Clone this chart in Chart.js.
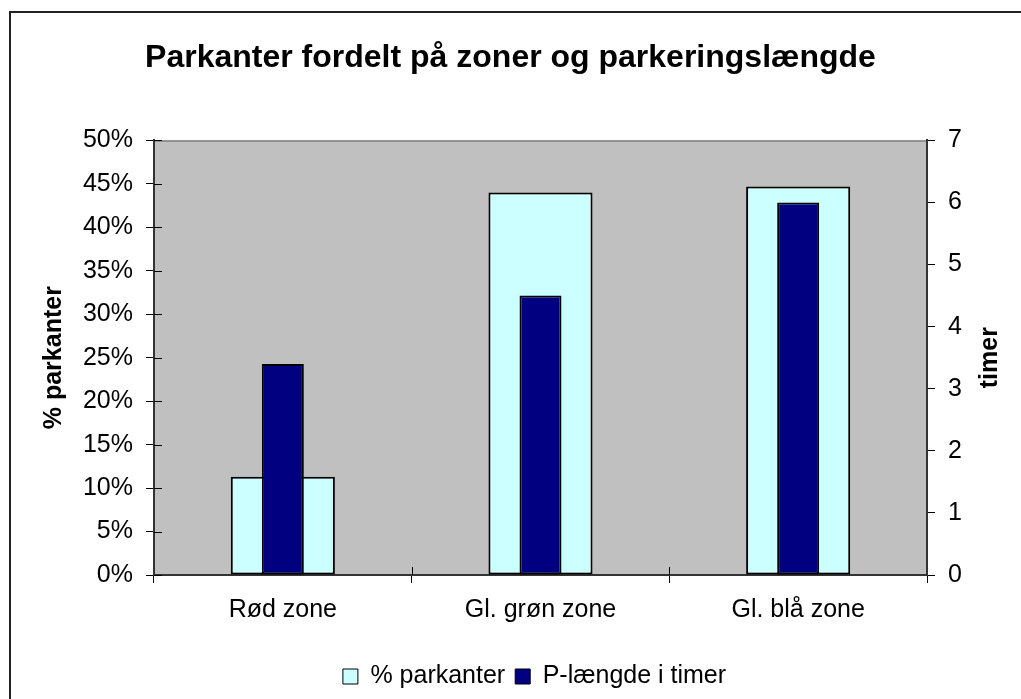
<!DOCTYPE html>
<html>
<head>
<meta charset="utf-8">
<script src="https://cdn.jsdelivr.net/npm/chart.js@4/dist/chart.umd.min.js"></script>
<style>
html,body{margin:0;padding:0;background:#fff;}
canvas{display:block;}
</style>
</head>
<body>
<canvas id="c" width="1021" height="699"></canvas>
<script>
const categories = ['Rød zone', 'Gl. grøn zone', 'Gl. blå zone'];
const pctParkanter = [11.3, 44.0, 44.7];
const pLaengdeTimer = [3.4, 4.5, 6.0];
const seriesNames = ['% parkanter', 'P-længde i timer'];
const titleText = 'Parkanter fordelt på zoner og parkeringslængde';
const leftAxisTitle = '% parkanter';
const rightAxisTitle = 'timer';

const FONT = '"Liberation Sans", Arial, Helvetica, sans-serif';

const decorPlugin = {
  id: 'decor',
  afterLayout(chart) {
    if (chart.legend) {
      chart.legend.left += 24;
      chart.legend.right += 24;
    }
  },
  beforeDraw(chart) {
    const ctx = chart.ctx;
    const a = chart.chartArea;
    ctx.save();
    ctx.fillStyle = '#ffffff';
    ctx.fillRect(0, 0, chart.width, chart.height);
    ctx.strokeStyle = '#222222';
    ctx.lineWidth = 2;
    ctx.strokeRect(10, 12, chart.width + 20, chart.height + 20);
    ctx.fillStyle = '#C0C0C0';
    ctx.fillRect(a.left, a.top, a.right - a.left, a.bottom - a.top);
    ctx.strokeStyle = '#808080';
    ctx.lineWidth = 1.5;
    ctx.beginPath();
    ctx.moveTo(a.left, a.top + 0.5);
    ctx.lineTo(a.right, a.top + 0.5);
    ctx.stroke();
    ctx.restore();
  },
  afterDraw(chart) {
    const ctx = chart.ctx;
    const a = chart.chartArea;
    const y = chart.scales.y;
    const x = chart.scales.x;
    ctx.save();
    ctx.strokeStyle = '#000000';
    ctx.lineWidth = 1;
    ctx.beginPath();
    for (let i = 0; i < y.ticks.length; i++) {
      const py = Math.round(y.getPixelForTick(i)) + 0.5;
      ctx.moveTo(a.left, py);
      ctx.lineTo(a.left + 8, py);
    }
    for (let i = 1; i < categories.length; i++) {
      const px = Math.round(x.getPixelForValue(i - 0.5)) + 0.5;
      ctx.moveTo(px, a.bottom);
      ctx.lineTo(px, a.bottom - 8);
    }
    ctx.stroke();
    ctx.fillStyle = '#000000';
    ctx.font = 'bold 25px ' + FONT;
    ctx.textAlign = 'center';
    ctx.textBaseline = 'middle';
    ctx.translate(990, (a.top + a.bottom) / 2);
    ctx.rotate(-Math.PI / 2);
    ctx.fillText(rightAxisTitle, 0, 0);
    ctx.restore();
  }
};

const defaultGen = Chart.defaults.plugins.legend.labels.generateLabels;

new Chart(document.getElementById('c'), {
  type: 'bar',
  data: {
    labels: categories,
    datasets: [
      {
        label: seriesNames[0],
        data: pctParkanter,
        yAxisID: 'y',
        backgroundColor: '#CCFFFF',
        borderColor: '#000000',
        borderWidth: 2,
        borderSkipped: false,
        grouped: false,
        categoryPercentage: 1,
        barPercentage: 0.404,
        order: 2
      },
      {
        label: seriesNames[1],
        data: pLaengdeTimer,
        yAxisID: 'y1',
        backgroundColor: '#000080',
        borderColor: '#000000',
        borderWidth: 2,
        borderSkipped: false,
        grouped: false,
        categoryPercentage: 1,
        barPercentage: 0.163,
        order: 1
      }
    ]
  },
  options: {
    responsive: false,
    animation: false,
    layout: { padding: 0 },
    plugins: {
      tooltip: { enabled: false },
      title: {
        display: true,
        text: titleText,
        color: '#000000',
        font: { family: FONT, size: 32, weight: 'bold', lineHeight: 1.2 },
        padding: { top: 39, bottom: 63 }
      },
      legend: {
        position: 'bottom',
        labels: {
          color: '#000000',
          font: { family: FONT, size: 25 },
          boxWidth: 15,
          boxHeight: 15,
          padding: 10,
          sort: (a, b) => a.datasetIndex - b.datasetIndex,
          generateLabels: (chart) => defaultGen(chart).map(l => Object.assign(l, { lineWidth: 1 }))
        }
      }
    },
    scales: {
      x: {
        grid: { display: true, drawOnChartArea: false, offset: true, color: '#000000', tickLength: 8, lineWidth: 1 },
        border: { display: true, color: '#333333', width: 2 },
        ticks: { color: '#000000', font: { family: FONT, size: 25 }, padding: 12, maxRotation: 0, autoSkip: false },
        afterFit: (s) => { s.height = 79; }
      },
      y: {
        position: 'left',
        min: 0,
        max: 50,
        grid: { display: true, drawOnChartArea: false, color: '#000000', tickLength: 8, lineWidth: 1 },
        border: { display: true, color: '#333333', width: 2 },
        ticks: { stepSize: 5, color: '#000000', font: { family: FONT, size: 25 }, padding: 13, callback: (v) => v + '%' },
        title: { display: true, text: leftAxisTitle, color: '#000000', font: { family: FONT, size: 25, weight: 'bold', lineHeight: 1.2 }, padding: { top: 39, bottom: 0 } },
        afterFit: (s) => { s.width = 154; }
      },
      y1: {
        position: 'right',
        min: 0,
        max: 7,
        grid: { display: true, drawOnChartArea: false, color: '#000000', tickLength: 8, lineWidth: 1 },
        border: { display: true, color: '#333333', width: 2 },
        ticks: { stepSize: 1, color: '#000000', font: { family: FONT, size: 25 }, padding: 13 },
        afterFit: (s) => { s.width = 94; }
      }
    }
  },
  plugins: [decorPlugin]
});
</script>
</body>
</html>
